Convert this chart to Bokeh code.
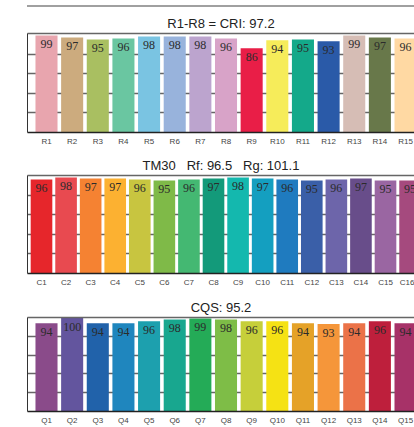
from bokeh.plotting import figure
from bokeh.models import ColumnDataSource, LabelSet, LinearAxis, FixedTicker, Range1d, Title, Div
from bokeh.layouts import column
from bokeh.embed import file_html
from bokeh.resources import INLINE

FONT = "Liberation Sans"

# ---- data ----
cri_title = "R1-R8 = CRI: 97.2"
cri_labels = ["R1", "R2", "R3", "R4", "R5", "R6", "R7", "R8", "R9", "R10",
              "R11", "R12", "R13", "R14", "R15"]
cri_values = [99, 97, 95, 96, 98, 98, 98, 96, 86, 94, 95, 93, 99, 97, 96]
cri_colors = ["#E8A5AE", "#CCAB7E", "#A9BF61", "#6AC6A1", "#7AC4E2", "#98B3DC",
              "#BCA4CE", "#D8A3C8", "#E91E47", "#F6EC5A", "#14A98A", "#2A5AA8",
              "#D6BDB5", "#68784A", "#FFD9A3"]

tm30_title = "TM30\u00a0\u00a0\u00a0Rf: 96.5\u00a0\u00a0\u00a0Rg: 101.1"
tm30_labels = ["C1", "C2", "C3", "C4", "C5", "C6", "C7", "C8", "C9", "C10",
               "C11", "C12", "C13", "C14", "C15", "C16"]
tm30_values = [96, 98, 97, 97, 96, 95, 96, 97, 98, 97, 96, 95, 96, 97, 95, 95]
tm30_colors = ["#E6262B", "#E84A50", "#F58232", "#FCB131", "#C8C540", "#7FBA48",
               "#44B872", "#139A7A", "#14B8AE", "#149FC0", "#1F7BBF", "#3A5FA8",
               "#6D65AA", "#684D8A", "#9A66A2", "#A54A7E"]

cqs_title = "CQS: 95.2"
cqs_labels = ["Q1", "Q2", "Q3", "Q4", "Q5", "Q6", "Q7", "Q8", "Q9", "Q10",
              "Q11", "Q12", "Q13", "Q14", "Q15"]
cqs_values = [94, 100, 94, 94, 96, 98, 99, 98, 96, 96, 94, 93, 94, 96, 94]
cqs_colors = ["#8A4B8A", "#63559E", "#2162AA", "#1F86BE", "#1DA0AE", "#18A78F",
              "#24AB57", "#7EBD47", "#C6CF3A", "#F5E214", "#E5A228", "#F5963A",
              "#EB7248", "#BE1F3C", "#A73268"]

grid_ticks = [20, 40, 60, 80]


def blank_axis(**kw):
    return LinearAxis(ticker=FixedTicker(ticks=[]), major_tick_out=0, major_tick_in=0,
                      minor_tick_out=0, minor_tick_in=0, major_label_standoff=0,
                      major_label_text_font_size="0px", **kw)


def make_panel(title, labels, values, colors, x_start, x_end, bar_w, height,
               top, bottom, y_end=100):
    xs = list(range(len(values)))
    src = ColumnDataSource(dict(x=xs, top=values, color=colors,
                                txt=[str(v) for v in values]))
    p = figure(width=414, height=height, output_backend="svg", toolbar_location=None,
               x_range=Range1d(x_start, x_end), y_range=Range1d(0, y_end),
               x_axis_location=None, y_axis_location=None, title_location=None,
               min_border_left=27, min_border_right=0,
               min_border_top=top, min_border_bottom=bottom)
    p.outline_line_color = None
    p.background_fill_color = "white"
    p.xgrid.visible = False
    p.ygrid.ticker = FixedTicker(ticks=grid_ticks)
    p.ygrid.grid_line_color = "#666666"
    p.ygrid.grid_line_width = 1.5

    p.vbar(x="x", top="top", bottom=0, width=bar_w, color="color", line_color=None,
           source=src)
    p.add_layout(LabelSet(x="x", y="top", text="txt", source=src, y_offset=-9,
                          text_align="center", text_baseline="middle",
                          text_font=FONT, text_font_size="12px",
                          text_color="#2b2b2b"))

    xb = LinearAxis(ticker=FixedTicker(ticks=xs),
                    major_label_overrides={i: l for i, l in zip(xs, labels)},
                    major_tick_out=0, major_tick_in=0, minor_tick_out=0, minor_tick_in=0,
                    major_label_standoff=4, major_label_text_font=FONT,
                    major_label_text_font_size="8px", major_label_text_color="#444444",
                    axis_line_color="#222222", axis_line_width=1.5)
    p.add_layout(xb, "below")
    p.add_layout(blank_axis(axis_line_color="#333333", axis_line_width=1), "left")
    p.add_layout(blank_axis(axis_line_color="#666666", axis_line_width=1.5), "above")
    p.add_layout(Title(text=title, align="center", offset=4, standoff=6,
                       text_font=FONT, text_font_size="13px", text_font_style="normal",
                       text_color="#222222"), "above")
    return p


rule = Div(text="", width=387, height=3, margin=(5, 0, 0, 27),
           styles={"border-top": "2px solid #a0a0a0", "box-sizing": "border-box"})
p1 = make_panel(cri_title, cri_labels, cri_values, cri_colors,
                -0.741, 14.35, 0.86, 142, 25, 18, y_end=101)
p2 = make_panel(tm30_title, tm30_labels, tm30_values, tm30_colors,
                -0.57, 15.18, 0.88, 142, 25, 19)
p3 = make_panel(cqs_title, cqs_labels, cqs_values, cqs_colors,
                -0.741, 14.35, 0.86, 135, 25, 13)

layout = column(rule, p1, p2, p3, spacing=0)
open("out.html", "w").write(file_html(layout, INLINE))
